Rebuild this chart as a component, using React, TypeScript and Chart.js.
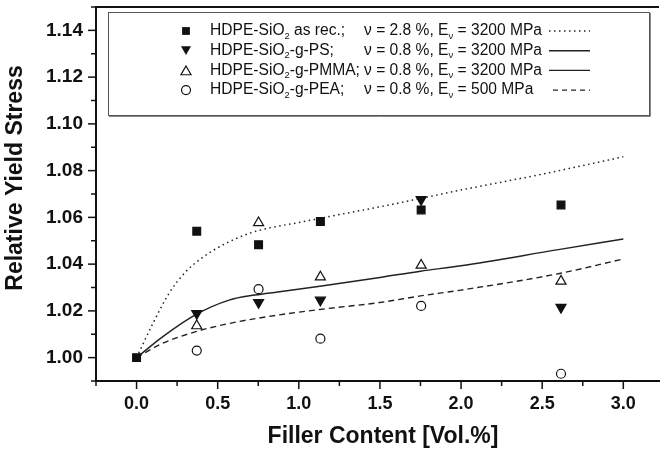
import React, { useEffect, useRef } from "react";
import { Chart, registerables } from "chart.js";

Chart.register(...registerables);

// ---------- data ----------
const fillerAsRec = [0, 0.371, 0.752, 1.133, 1.754, 2.616];
const yieldAsRec = [1.0, 1.0541, 1.0483, 1.0582, 1.0632, 1.0653];

const fillerGrafted = [0.371, 0.752, 1.133, 1.754, 2.616];
const yieldPS = [1.0189, 1.0236, 1.0246, 1.0676, 1.0215];
const yieldPMMA = [1.0136, 1.0577, 1.0345, 1.0395, 1.0327];
const yieldPEA = [1.003, 1.0293, 1.0081, 1.0221, 0.9931];

// model curves
const modelHighX = [0, 0.1, 0.2, 0.3, 0.4, 0.5, 0.6, 0.7, 0.8, 1.0, 1.25, 1.5, 2.0, 2.5, 3.0];
const modelHighY = [1.0, 1.0145, 1.0275, 1.0365, 1.0425, 1.047, 1.0505, 1.0533, 1.0552, 1.0578, 1.0612, 1.0645, 1.0717, 1.0785, 1.0859];

const modelMidX = [0, 0.16, 0.365, 0.57, 0.73, 0.87, 1.13, 1.5, 1.75, 2.0, 2.6, 3.0];
const modelMidY = [1.0, 1.0089, 1.0184, 1.0246, 1.0268, 1.0281, 1.0305, 1.0343, 1.037, 1.0393, 1.0462, 1.0507];

const modelLowX = [0, 0.16, 0.365, 0.57, 0.87, 1.13, 1.5, 1.75, 2.0, 2.6, 3.0];
const modelLowY = [1.0, 1.0061, 1.0111, 1.0146, 1.0182, 1.0206, 1.0236, 1.0264, 1.0289, 1.0359, 1.0422];

const xTickValues = [0, 0.5, 1.0, 1.5, 2.0, 2.5, 3.0];
const yTickValues = [1.0, 1.02, 1.04, 1.06, 1.08, 1.1, 1.12, 1.14];

// legend text: parts alternate normal / subscript
const legendNames = [
  ["HDPE-SiO", "2", " as rec.;"],
  ["HDPE-SiO", "2", "-g-PS;"],
  ["HDPE-SiO", "2", "-g-PMMA;"],
  ["HDPE-SiO", "2", "-g-PEA;"],
];
const legendParams = [
  ["\u03bd = 2.8 %, E", "\u03bd", " = 3200 MPa"],
  ["\u03bd = 0.8 %, E", "\u03bd", " = 3200 MPa"],
  ["\u03bd = 0.8 %, E", "\u03bd", " = 3200 MPa"],
  ["\u03bd = 0.8 %, E", "\u03bd", " = 500 MPa"],
];

const xTitle = "Filler Content [Vol.%]";
const yTitle = "Relative Yield Stress";

const FONT = '"Liberation Sans", Arial, Helvetica, sans-serif';
const INK = "#111";

const pts = (xs: number[], ys: number[]) => xs.map((x, i) => ({ x, y: ys[i] }));

function drawRich(ctx: CanvasRenderingContext2D, parts: string[], x: number, y: number, size: number) {
  let cx = x;
  parts.forEach((p, i) => {
    const sub = i % 2 === 1;
    ctx.font = `${sub ? size * 0.6 : size}px ${FONT}`;
    ctx.fillText(p, cx, sub ? y + size * 0.32 : y);
    cx += ctx.measureText(p).width;
  });
  return cx;
}

function drawMarker(ctx: CanvasRenderingContext2D, kind: number, x: number, y: number) {
  ctx.save();
  ctx.lineWidth = 1.2;
  ctx.strokeStyle = INK;
  ctx.fillStyle = INK;
  ctx.beginPath();
  if (kind === 0) {
    ctx.fillRect(x - 3.9, y - 3.9, 7.8, 7.8);
  } else if (kind === 1 || kind === 2) {
    const r = 5.8;
    const s = kind === 1 ? -1 : 1;
    ctx.moveTo(x, y - s * r * 0.75);
    ctx.lineTo(x + r * 0.866, y + s * r * 0.75);
    ctx.lineTo(x - r * 0.866, y + s * r * 0.75);
    ctx.closePath();
    if (kind === 1) ctx.fill();
    else {
      ctx.fillStyle = "#fff";
      ctx.fill();
      ctx.stroke();
    }
  } else {
    ctx.arc(x, y, 4.5, 0, Math.PI * 2);
    ctx.fillStyle = "#fff";
    ctx.fill();
    ctx.stroke();
  }
  ctx.restore();
}

const overlay = {
  id: "overlay",
  afterDraw(chart: any) {
    const { ctx, chartArea, scales } = chart;
    const xs = scales.x;
    const ys = scales.y;
    ctx.save();
    ctx.strokeStyle = INK;
    ctx.fillStyle = INK;

    // top frame line
    ctx.lineWidth = 2;
    ctx.beginPath();
    ctx.moveTo(chartArea.left - 1, chartArea.top);
    ctx.lineTo(chartArea.right, chartArea.top);
    ctx.stroke();

    // ticks (major + minor, outward)
    ctx.lineWidth = 1.5;
    for (let i = 0; i <= 15; i++) {
      const v = -0.25 + i * 0.25;
      const px = xs.getPixelForValue(v);
      if (px < chartArea.left - 1 || px > chartArea.right) continue;
      const major = i % 2 === 1;
      const len = major ? 8 : 5;
      ctx.beginPath();
      ctx.moveTo(px, chartArea.bottom);
      ctx.lineTo(px, chartArea.bottom + len);
      ctx.stroke();
    }
    for (let i = 0; i <= 16; i++) {
      const v = 0.99 + i * 0.01;
      const py = ys.getPixelForValue(v);
      if (py < chartArea.top - 1 || py > chartArea.bottom + 1) continue;
      const major = i % 2 === 1;
      const len = major ? 8 : 5;
      ctx.beginPath();
      ctx.moveTo(chartArea.left, py);
      ctx.lineTo(chartArea.left - len, py);
      ctx.stroke();
    }

    // axis titles
    ctx.font = `bold 23px ${FONT}`;
    ctx.textAlign = "center";
    ctx.textBaseline = "middle";
    ctx.fillText(xTitle, 383, 437);
    ctx.save();
    ctx.translate(16, 178);
    ctx.rotate(-Math.PI / 2);
    ctx.fillText(yTitle, 0, 0);
    ctx.restore();

    // legend box
    ctx.lineWidth = 1;
    ctx.strokeStyle = "#555";
    ctx.strokeRect(108.5, 12.5, 541, 103);
    ctx.strokeStyle = "#888";
    ctx.beginPath();
    ctx.moveTo(650.5, 13);
    ctx.lineTo(650.5, 116.5);
    ctx.lineTo(109, 116.5);
    ctx.stroke();

    ctx.textAlign = "left";
    ctx.textBaseline = "middle";
    const size = 15.6;
    const dashes = [[1.5, 3.5], [], [], [5, 4]];
    legendNames.forEach((name, i) => {
      const y = 31 + i * 19.7;
      drawMarker(ctx, i, 186, y);
      ctx.fillStyle = INK;
      const end = drawRich(ctx, name, 210, y, size);
      const x2 = Math.max(364, end + 3);
      drawRich(ctx, legendParams[i], x2, y, size);
      ctx.save();
      ctx.strokeStyle = "#222";
      ctx.lineWidth = 1.4;
      ctx.setLineDash(dashes[i]);
      ctx.beginPath();
      const lx0 = i === 3 ? 553 : 549;
      ctx.moveTo(lx0, y);
      ctx.lineTo(590, y);
      ctx.stroke();
      ctx.restore();
    });

    ctx.restore();
  },
};

export default function App() {
  const ref = useRef<HTMLCanvasElement | null>(null);

  useEffect(() => {
    document.body.style.margin = "0";
    const canvas = ref.current;
    if (!canvas) return;

    const markerBase = {
      showLine: false,
      borderWidth: 1.2,
      borderColor: INK,
      order: 0,
    };
    const lineBase = {
      showLine: true,
      pointRadius: 0,
      pointHoverRadius: 0,
      borderColor: "#222",
      cubicInterpolationMode: "monotone" as const,
      fill: false,
      order: 1,
    };

    const chart = new Chart(canvas, {
      type: "scatter",
      data: {
        datasets: [
          { ...lineBase, label: "model high", data: pts(modelHighX, modelHighY), borderWidth: 1.5, borderDash: [1.5, 3.5] },
          { ...lineBase, label: "model mid", data: pts(modelMidX, modelMidY), borderWidth: 1.5 },
          { ...lineBase, label: "model low", data: pts(modelLowX, modelLowY), borderWidth: 1.4, borderDash: [6, 4] },
          { ...markerBase, label: "PEA", data: pts(fillerGrafted, yieldPEA), pointStyle: "circle", pointRadius: 4.5, backgroundColor: "#fff" },
          { ...markerBase, label: "PMMA", data: pts(fillerGrafted, yieldPMMA), pointStyle: "triangle", pointRadius: 5.8, backgroundColor: "#fff" },
          { ...markerBase, label: "PS", data: pts(fillerGrafted, yieldPS), pointStyle: "triangle", pointRotation: 180, pointRadius: 5.8, backgroundColor: INK },
          { ...markerBase, label: "as rec.", data: pts(fillerAsRec, yieldAsRec), pointStyle: "rect", pointRadius: 5.5, backgroundColor: INK },
        ],
      },
      options: {
        animation: false,
        responsive: false,
        devicePixelRatio: 1,
        layout: { padding: { top: 5, right: 0, left: 0, bottom: 0 } },
        plugins: {
          legend: { display: false },
          tooltip: { enabled: false },
          title: { display: false },
        },
        scales: {
          x: {
            type: "linear",
            min: -0.25,
            max: 3.22,
            grid: { display: false, drawTicks: false },
            border: { display: true, color: INK, width: 2 },
            ticks: {
              padding: 12,
              color: INK,
              font: { family: FONT, size: 18, weight: "bold" },
              callback: (v: any) => Number(v).toFixed(1),
              maxRotation: 0,
              autoSkip: false,
            },
            afterBuildTicks: (s: any) => {
              s.ticks = xTickValues.map((value) => ({ value }));
            },
            afterFit: (s: any) => {
              s.height = 74;
              s.paddingLeft = 0;
              s.paddingRight = 0;
            },
          },
          y: {
            type: "linear",
            min: 0.99,
            max: 1.15,
            grid: { display: false, drawTicks: false },
            border: { display: true, color: INK, width: 2 },
            ticks: {
              padding: 13,
              color: INK,
              font: { family: FONT, size: 19, weight: "bold" },
              callback: (v: any) => Number(v).toFixed(2),
              autoSkip: false,
            },
            afterBuildTicks: (s: any) => {
              s.ticks = yTickValues.map((value) => ({ value }));
            },
            afterFit: (s: any) => {
              s.width = 96;
              s.paddingTop = 0;
              s.paddingBottom = 0;
            },
          },
        },
      },
      plugins: [overlay],
    });

    return () => chart.destroy();
  }, []);

  return (
    <div style={{ width: 666, height: 455 }}>
      <canvas ref={ref} width={666} height={455} style={{ display: "block" }} />
    </div>
  );
}
